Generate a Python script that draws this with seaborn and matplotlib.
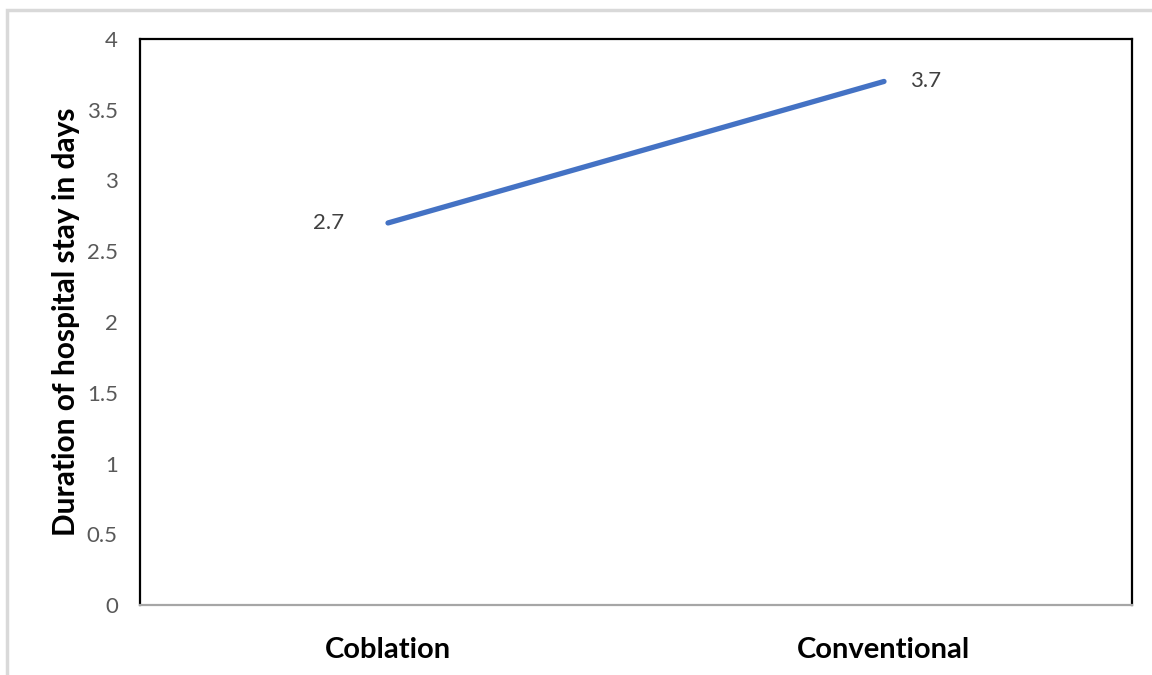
import matplotlib
matplotlib.use("Agg")
import matplotlib.pyplot as plt
import seaborn as sns
import pandas as pd
from matplotlib.patches import Rectangle

# Mean hospital stay by tonsillectomy technique
groups = ["Coblation", "Conventional"]
stay_days = [2.7, 3.7]
y_ticks = [0, 0.5, 1, 1.5, 2, 2.5, 3, 3.5, 4]
y_tick_labels = ["0", "0.5", "1", "1.5", "2", "2.5", "3", "3.5", "4"]

df = pd.DataFrame({"group": groups, "days": stay_days})

sns.set_theme(style="white")
plt.rcParams["font.family"] = ["Lato", "DejaVu Sans"]

fig = plt.figure(figsize=(11.52, 6.75), dpi=100)
ax = fig.add_axes([140 / 1152, 1 - 605 / 675, (1132 - 140) / 1152, (605 - 39) / 675])

# light outer frame around the chart area
fig.patches.append(Rectangle((7 / 1152, -0.02), 1.1, 1 - 10 / 675 + 0.02,
                             transform=fig.transFigure, fill=False,
                             edgecolor="#d9d9d9", linewidth=2.5))

sns.lineplot(data=df, x="group", y="days", ax=ax, color="#4472C4",
             linewidth=3.8, sort=False, solid_capstyle="round")

ax.set_xlim(-0.5, 1.5)
ax.set_ylim(0, 4)
ax.set_yticks(y_ticks)
ax.set_yticklabels(y_tick_labels)
ax.tick_params(axis="y", length=0, pad=16, labelsize=16, labelcolor="#595959")
ax.tick_params(axis="x", length=0, pad=23, labelsize=21)
for lbl in ax.get_xticklabels():
    lbl.set_fontweight("bold")
    lbl.set_color("black")

ax.set_xlabel("")
ax.set_ylabel("Duration of hospital stay in days", fontsize=21.5,
              fontweight="bold", color="black", labelpad=5)

for side in ["left", "top", "right"]:
    ax.spines[side].set_color("black")
    ax.spines[side].set_linewidth(1.6)
ax.spines["bottom"].set_color("#a6a6a6")
ax.spines["bottom"].set_linewidth(1.6)

# value labels beside each point
ax.annotate(f"{stay_days[0]}", (0, stay_days[0]), xytext=(-43, 0),
            textcoords="offset points", ha="center", va="center",
            fontsize=16, color="#404040")
ax.annotate(f"{stay_days[1]}", (1, stay_days[1]), xytext=(30, 0),
            textcoords="offset points", ha="center", va="center",
            fontsize=16, color="#404040")

fig.savefig("out.png", dpi=100, facecolor="white")
